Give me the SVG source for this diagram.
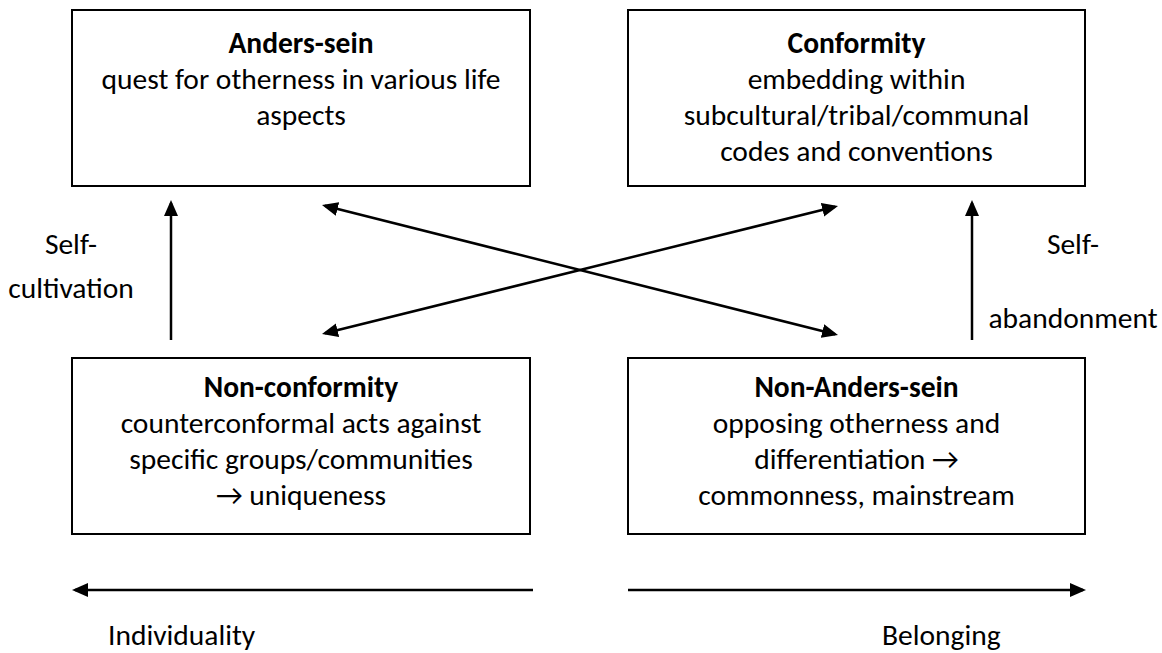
<svg xmlns="http://www.w3.org/2000/svg" width="1162" height="653" viewBox="0 0 1162 653">
  <defs>
    <style>
      .box { fill: #ffffff; stroke: #000000; stroke-width: 2; }
      .t { font-family: Carlito, Lato, "Liberation Sans", sans-serif; font-size: 29.5px; fill: #000000; text-anchor: middle; }
      .b { font-weight: bold; }
      .lbl { font-family: Carlito, Lato, "Liberation Sans", sans-serif; font-size: 29.5px; fill: #000000; }
      .arrow { fill: none; stroke: #000000; stroke-width: 2.5; }
    </style>
    <marker id="head" viewBox="0 0 16 14" markerWidth="16" markerHeight="14" refX="13" refY="7" orient="auto-start-reverse" markerUnits="userSpaceOnUse">
      <path d="M0,0 L16,7 L0,14 z" fill="#000000"/>
    </marker>
  </defs>
  <rect width="1162" height="653" fill="#ffffff"/>

  <!-- quadrant boxes -->
  <g id="anders-sein">
    <rect class="box" x="72" y="10" width="458" height="176"/>
    <text class="t b" x="301" y="53">Anders-sein</text>
    <text class="t" x="301" y="89">quest for otherness in various life</text>
    <text class="t" x="301" y="125">aspects</text>
  </g>

  <g id="conformity">
    <rect class="box" x="628" y="10" width="457" height="176"/>
    <text class="t b" x="856.5" y="53">Conformity</text>
    <text class="t" x="856.5" y="89">embedding within</text>
    <text class="t" x="856.5" y="125">subcultural/tribal/communal</text>
    <text class="t" x="856.5" y="161">codes and conventions</text>
  </g>

  <g id="non-conformity">
    <rect class="box" x="72" y="358" width="458" height="176"/>
    <text class="t b" x="301" y="397">Non-conformity</text>
    <text class="t" x="301" y="433">counterconformal acts against</text>
    <text class="t" x="301" y="469">specific groups/communities</text>
    <text class="t" x="301" y="505">→ uniqueness</text>
  </g>

  <g id="non-anders-sein">
    <rect class="box" x="628" y="358" width="457" height="176"/>
    <text class="t b" x="856.5" y="397">Non-Anders-sein</text>
    <text class="t" x="856.5" y="433">opposing otherness and</text>
    <text class="t" x="856.5" y="469">differentiation →</text>
    <text class="t" x="856.5" y="505">commonness, mainstream</text>
  </g>

  <!-- connectors -->
  <g id="connectors">
    <line class="arrow" x1="171" y1="340" x2="171" y2="203" marker-end="url(#head)"/>
    <line class="arrow" x1="972" y1="340" x2="972" y2="203" marker-end="url(#head)"/>
    <line class="arrow" x1="324.9" y1="205.7" x2="835.1" y2="334.3" marker-start="url(#head)" marker-end="url(#head)"/>
    <line class="arrow" x1="324.9" y1="333.3" x2="835.1" y2="206.7" marker-start="url(#head)" marker-end="url(#head)"/>
    <line class="arrow" x1="533" y1="590" x2="75" y2="590" marker-end="url(#head)"/>
    <line class="arrow" x1="628" y1="590" x2="1083" y2="590" marker-end="url(#head)"/>
  </g>

  <!-- axis and transition labels -->
  <g id="labels">
    <text class="t" x="71" y="254">Self-</text>
    <text class="t" x="71" y="298">cultivation</text>
    <text class="t" x="1073" y="254">Self-</text>
    <text class="t" x="1073" y="328">abandonment</text>
    <text class="lbl" x="108" y="645">Individuality</text>
    <text class="lbl" x="882" y="645">Belonging</text>
  </g>
</svg>
